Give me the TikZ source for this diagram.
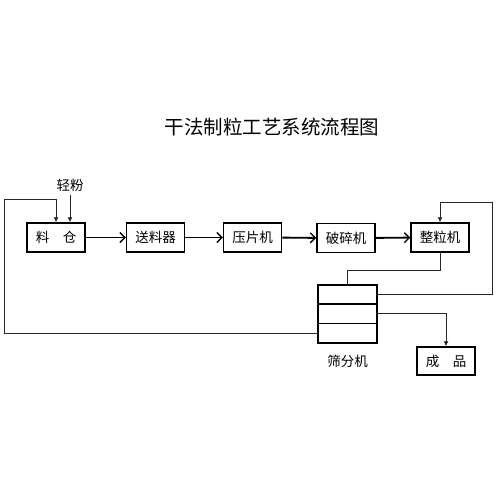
\documentclass[tikz,border=0pt]{standalone}
\usepackage{fontspec}
\newfontfamily\cjk{Noto Sans CJK SC}
\usetikzlibrary{positioning}
\usetikzlibrary{arrows.meta}

\begin{document}
\begin{tikzpicture}[x=1pt,y=-1pt,
	font=\cjk\fontsize{13.5}{15}\selectfont,
	main node/.style={rectangle,draw,line width=1.5pt,minimum width=58pt,minimum height=29pt,inner sep=0pt},
	sieve part/.style={rectangle,draw,line width=1.5pt,minimum width=59pt,minimum height=19.3pt,inner sep=0pt,outer sep=0pt},
	flow/.style={-{Straight Barb[length=5pt,width=10pt,line width=1.3pt]},line width=1.9pt},
	back/.style={-{Latex[length=5pt,width=5pt]},line width=0.9pt,black!85},
	plain/.style={line width=0.9pt,black!85}]

	\useasboundingbox (0,0) rectangle (500,500);

	\node (title) at (272,127) {\fontsize{19.5}{21}\selectfont 干法制粒工艺系统流程图};

	\node[main node] (lc) at (56,237.5) {料\hspace{1em}仓};
	\node[main node] (sl) at (155.5,237.5) {送料器};
	\node[main node] (yp) at (252.5,237.5) {压片机};
	\node[main node] (ps) at (346,238) {破碎机};
	\node[main node] (zl) at (440,237.5) {整粒机};
	\node[main node, minimum height=28pt] (cp) at (446,361) {成\hspace{1em}品};

	\node[sieve part] (sfa) at (347.5,294.5) {};
	\node[sieve part] (sfb) [below=0pt of sfa] {};
	\node[sieve part] (sfc) [below=0pt of sfb] {};
	\node (sf) [below=9pt of sfc] {筛分机};

	\node (qf) at (70,185) {轻粉};

	\coordinate (r1) at (492,202);
	\coordinate (l1) at (4,199);

	% main line
	\draw[flow] (lc) -- (sl);
	\draw[flow] (sl) -- (yp);
	\draw[flow] (yp) -- (ps);
	\draw[flow] (ps) -- (zl);

	% returns and output
	\draw[plain] (zl.south) -- ++(0,18) -| (sfa.north);
	\draw[back] (sfa.east) -| (r1) -| (zl.north);
	\draw[back] (sfb.east) -| (cp.north);
	\draw[back] (sfc.west) -| (l1) -| (lc.north);
	\draw[back] (qf) -- (qf |- lc.north);
\end{tikzpicture}
\end{document}
